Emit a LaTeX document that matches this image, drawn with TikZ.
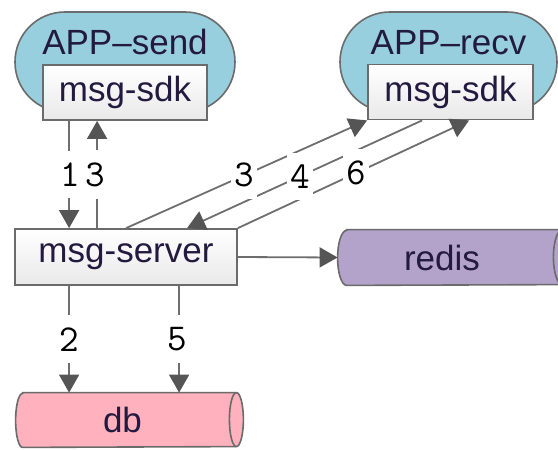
\documentclass[tikz,border=0pt]{standalone}
\usepackage{fontspec}
\setmainfont{Liberation Sans}
\usetikzlibrary{arrows.meta,calc}
\definecolor{edge}{HTML}{6B6B6B}
\definecolor{linecol}{HTML}{6E6E6E}
\definecolor{tipcol}{HTML}{555555}
\definecolor{appblue}{HTML}{98CFDF}
\definecolor{redisfill}{HTML}{B3A3CA}
\definecolor{dbfill}{HTML}{FFB2BD}
\definecolor{boxbot}{HTML}{E9E9E9}
\definecolor{txt}{HTML}{231A40}
\begin{document}
\begin{tikzpicture}[x=0.5pt,y=-0.5pt,
  boxfont/.style={font=\fontsize{17.5}{20}\selectfont, text=txt},
  app/.style={draw=edge, line width=0.8pt, fill=appblue, rounded corners=24.9pt,
    minimum width=110pt, minimum height=50pt, inner sep=0pt},
  sdkbox/.style={draw=edge, line width=0.9pt, top color=white, bottom color=boxbot,
    minimum width=82pt, minimum height=27.5pt, inner sep=0pt, boxfont},
  cylnode/.style={inner sep=0pt},
  cylfill/.style={draw=edge, line width=0.8pt},
  arr/.style={draw=linecol, line width=0.9pt, -{Triangle[width=10pt,length=9pt,color=tipcol]}},
  lbl/.style={fill=white, inner xsep=1.5pt, inner ysep=6pt,
    font=\ttfamily\fontsize{19}{20}\selectfont, text=black}
]
\clip (0,0) rectangle (558,450);
% application containers
\node[app, label={[boxfont, anchor=center, yshift=-15.5pt]north:APP–send}] (app1) at (125,62) {};
\node[app, minimum width=108.5pt, label={[boxfont, anchor=center, yshift=-15.5pt]north:APP–recv}] (app2) at (448.5,62) {};
% boxes
\node[sdkbox] (sdk1) at (125,92.5) {msg-sdk};
\node[sdkbox, minimum width=82.5pt] (sdk2) at (450.5,92) {msg-sdk};
\node[sdkbox, minimum width=111pt, minimum height=28pt] (srv) at (126,257) {msg-server};
% cylinders
\node[cylnode, minimum width=107.5pt, minimum height=27.5pt] (redis) at (454.5,257.5) {};
\node[cylnode, minimum width=106.5pt, minimum height=27pt] (db) at (129.5,420) {};
\path[cylfill, fill=redisfill] (redis.north west) -- (redis.north east)
  arc[start angle=90, end angle=-90, x radius=4.5pt, y radius=13.75pt]
  -- (redis.south west)
  arc[start angle=270, end angle=90, x radius=4.5pt, y radius=13.75pt] -- cycle;
\draw[cylfill] (redis.north east) arc[start angle=90, end angle=270, x radius=4.5pt, y radius=13.75pt];
\path[cylfill, fill=dbfill] (db.north west) -- (db.north east)
  arc[start angle=90, end angle=-90, x radius=3.5pt, y radius=13.5pt]
  -- (db.south west)
  arc[start angle=270, end angle=90, x radius=3.5pt, y radius=13.5pt] -- cycle;
\draw[cylfill] (db.north east) arc[start angle=90, end angle=270, x radius=3.5pt, y radius=13.5pt];
\node[boxfont] (redistxt) at ($(redis.center)+(-12.5,0)$) {redis};
\node[boxfont] (dbtxt) at ($(db.center)+(-7,0)$) {db};
% connectors
\coordinate (s1) at ($(sdk1.south west)+(27,0)$);
\coordinate (s3) at ($(sdk1.south west)+(55,0)$);
\coordinate (b2) at ($(srv.south west)+(55,0)$);
\coordinate (b5) at ($(srv.south west)+(165,0)$);
\coordinate (d3a) at ($(srv.north west)+(112,0)$);
\coordinate (d4a) at ($(sdk2.south west)+(55,0)$);
\coordinate (d4b) at ($(srv.north west)+(173,0)$);
\coordinate (d6b) at ($(sdk2.south west)+(102,0)$);
\coordinate (rl) at ($(redis.west)+(-9,0)$);
\draw[arr] (s1) -- (s1 |- srv.north);
\draw[arr] (s3 |- srv.north) -- (s3);
\draw[arr] (b2) -- (b2 |- db.north);
\draw[arr] (b5) -- (b5 |- db.north);
\draw[arr] (srv.east) -- (rl);
\draw[arr] (d3a) -- (sdk2.south west);
\draw[arr] (d4a) -- (d4b);
\draw[arr] (srv.north east) -- (d6b);
% labels
\path (s1) -- node[lbl, xshift=0.5pt] (l1) {1} (s1 |- srv.north);
\path (s3 |- srv.north) -- node[lbl, xshift=-1pt] (l3a) {3} (s3);
\path (b2) -- node[lbl] (l2) {2} (b2 |- db.north);
\path (b5) -- node[lbl, xshift=-1pt] (l5) {5} (b5 |- db.north);
\path (d3a) -- node[lbl, pos=0.49] (l3b) {3} (sdk2.south west);
\path (d4a) -- node[lbl, pos=0.52] (l4) {4} (d4b);
\path (srv.north east) -- node[lbl, pos=0.51] (l6) {6} (d6b);
\end{tikzpicture}
\end{document}
